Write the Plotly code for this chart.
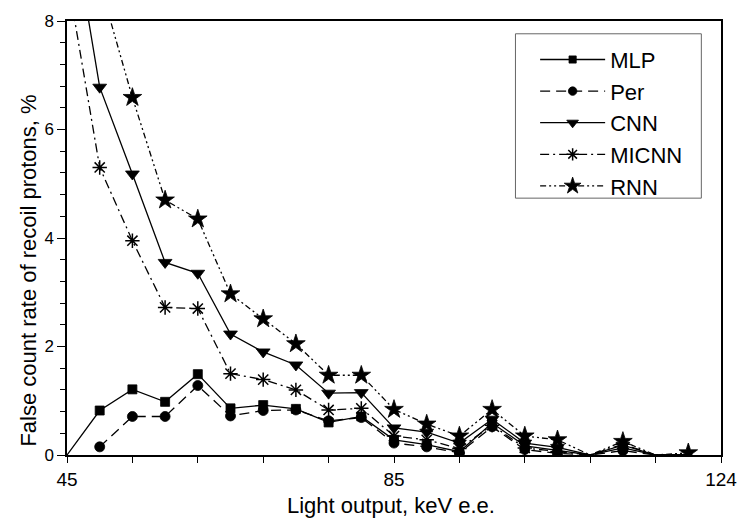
import plotly.graph_objects as go

# Light output, keV e.e.
light_output = [45.0, 48.95, 52.9, 56.85, 60.8, 64.75, 68.7, 72.65, 76.6, 80.55,
                84.5, 88.45, 92.4, 96.35, 100.3, 104.25, 108.2, 112.15, 116.1, 120.05]

mlp = [0.0, 0.82, 1.21, 0.98, 1.49, 0.86, 0.92, 0.85, 0.60, 0.71,
       0.28, 0.19, 0.06, 0.59, 0.17, 0.08, 0.0, 0.13, 0.0, 0.0]
per = [None, 0.15, 0.71, 0.71, 1.28, 0.72, 0.82, 0.83, 0.63, 0.69,
       0.22, 0.15, 0.04, 0.52, 0.10, 0.03, 0.0, 0.08, 0.0, 0.0]
cnn = [10.4, 6.78, 5.18, 3.55, 3.35, 2.23, 1.90, 1.66, 1.14, 1.15,
       0.50, 0.42, 0.22, 0.66, 0.22, 0.14, 0.0, 0.18, 0.0, 0.0]
micnn = [8.85, 5.30, 3.95, 2.72, 2.70, 1.50, 1.39, 1.20, 0.83, 0.86,
         0.35, 0.28, 0.12, 0.55, 0.13, 0.06, 0.0, 0.20, 0.0, 0.0]
rnn = [11.0, 8.7, 6.59, 4.70, 4.35, 2.97, 2.51, 2.05, 1.47, 1.47,
       0.84, 0.57, 0.35, 0.84, 0.35, 0.28, 0.0, 0.25, 0.0, 0.04]

x_tick_labels = ["45", "", "", "", "", "85", "", "", "", "", "124"]
y_tick_labels = ["0", "2", "4", "6", "8"]

FONT = "Liberation Sans, Arial, sans-serif"

series = [
    ("MLP", mlp, "solid", "square", 9),
    ("Per", per, "10px,6px", "circle", 10),
    ("CNN", cnn, "solid", "triangle-down", 12),
    ("MICNN", micnn, "9px,4px,2px,4px", "asterisk-open", 12),
    ("RNN", rnn, "6px,3px,2px,3px,2px,3px", "star", 14),
]

fig = go.Figure()
for name, ys, dash, sym, size in series:
    sizes = [0 if (v is not None and v == 0) else size for v in ys]
    fig.add_trace(go.Scatter(
        x=light_output, y=ys, name=name, mode="lines+markers",
        line=dict(color="black", width=1.3, dash=dash),
        marker=dict(symbol=sym, size=sizes, color="black", opacity=1,
                    line=dict(color="black", width=1.5 if sym == "asterisk-open" else 0.8)),
        connectgaps=False,
    ))

tickvals_x = [round(45 + 7.9 * i, 2) for i in range(11)]

# plot area in pixels: x 67..732, y 14..455
def px_x(p):
    return (p - 67) / 665.0

def px_y(p):
    return (455 - p) / 441.0

fig.update_layout(
    width=749, height=518,
    margin=dict(l=67, r=17, t=14, b=63),
    paper_bgcolor="white", plot_bgcolor="white",
    font=dict(family=FONT, color="black"),
    showlegend=True,
    legend=dict(
        x=px_x(543), y=px_y(32), xanchor="left", yanchor="top",
        borderwidth=0, bgcolor="rgba(0,0,0,0)",
        font=dict(size=22, family=FONT, color="black"), itemwidth=65,
        tracegroupgap=0,
    ),
    shapes=[dict(type="rect", xref="paper", yref="paper",
                 x0=px_x(523), x1=px_x(712), y0=px_y(194), y1=px_y(27),
                 line=dict(color="#666666", width=1), fillcolor="rgba(0,0,0,0)",
                 layer="above")],
    annotations=[
        dict(text="Light output, keV e.e.", xref="paper", yref="paper",
             x=px_x(396), y=px_y(506), xanchor="center", yanchor="middle",
             showarrow=False, font=dict(size=22, family=FONT, color="black")),
        dict(text="False count rate of recoil protons, %", xref="paper", yref="paper",
             x=px_x(28), y=px_y(268), xanchor="center", yanchor="middle", textangle=-90,
             showarrow=False, font=dict(size=22, family=FONT, color="black")),
    ],
    xaxis=dict(
        range=[45, 124], tickmode="array", tickvals=tickvals_x, ticktext=x_tick_labels,
        ticks="outside", ticklen=6, tickwidth=1, tickcolor="black",
        showline=True, linecolor="black", linewidth=1.5, mirror=True,
        showgrid=False, zeroline=False, ticklabelstandoff=0,
        tickfont=dict(size=19, family=FONT),
    ),
    yaxis=dict(
        range=[0, 8], tickmode="array", tickvals=[0, 2, 4, 6, 8], ticktext=y_tick_labels,
        ticks="outside", ticklen=8, tickwidth=1, tickcolor="black",
        minor=dict(dtick=0.4, ticks="outside", ticklen=5, tickcolor="black"),
        showline=True, linecolor="black", linewidth=1.5, mirror=True,
        showgrid=False, zeroline=False,
        tickfont=dict(size=17, family=FONT),
    ),
    xaxis2=dict(
        overlaying="x", side="top", range=[45, 124], tickmode="array", tickvals=tickvals_x,
        ticks="outside", ticklen=3, tickcolor="black", showticklabels=False,
        showline=False, showgrid=False, zeroline=False,
    ),
    yaxis2=dict(
        overlaying="y", side="right", range=[0, 8], tickmode="array", tickvals=[0, 2, 4, 6, 8],
        ticks="outside", ticklen=3, tickcolor="black", showticklabels=False,
        minor=dict(dtick=0.4, ticks="outside", ticklen=3, tickcolor="black"),
        showline=False, showgrid=False, zeroline=False,
    ),
)

fig.write_html("out.html")
